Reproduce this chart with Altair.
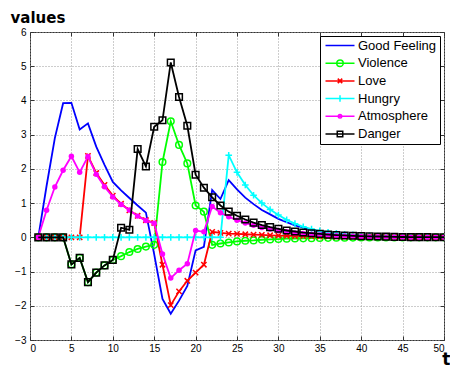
import altair as alt
import pandas as pd

t = list(range(1, 51))
names = ["Good Feeling", "Violence", "Love", "Hungry", "Atmosphere", "Danger"]
colors = ["#0000ff", "#00ff00", "#ff0000", "#00ffff", "#ff00ff", "#000000"]

good_feeling = [0, 1.5, 2.9, 3.92, 3.93, 3.15, 3.33, 2.65, 2.12, 1.62,
                1.37, 1.15, 0.93, 0.72, -0.5, -1.8, -2.23, -1.85, -1.42, -0.38,
                -0.28, 1.38, 1.12, 1.67, 1.4, 1.16, 0.97, 0.8, 0.67, 0.54,
                0.44, 0.35, 0.28, 0.22, 0.17, 0.13, 0.1, 0.08, 0.06, 0.05,
                0.04, 0.03, 0.02, 0.02, 0.01, 0.01, 0.01, 0.0, 0.0, 0.0]
violence = [0, 0, 0, 0, -0.79, -0.6, -1.31, -1.03, -0.82, -0.66,
            -0.55, -0.43, -0.34, -0.27, -0.22, 2.2, 3.39, 2.7, 2.16, 0.93,
            0.75, -0.22, -0.18, -0.15, -0.12, -0.1, -0.09, -0.07, -0.06, -0.05,
            -0.04, -0.035, -0.03, -0.025, -0.02, -0.015, -0.01, -0.01, -0.008, -0.006,
            -0.005, -0.004, -0.003, -0.002, -0.002, -0.001, -0.001, 0, 0, 0]
love = [0, 0, 0, 0, 0, 0, 2.38, 1.88, 1.53, 1.22,
        0.98, 0.79, 0.63, 0.5, 0.42, -0.8, -1.98, -1.58, -1.27, -1.03,
        -0.8, 0.16, 0.13, 0.11, 0.1, 0.09, 0.08, 0.07, 0.06, 0.05,
        0.045, 0.04, 0.035, 0.03, 0.025, 0.02, 0.018, 0.015, 0.012, 0.01,
        0.008, 0.007, 0.006, 0.005, 0.004, 0.003, 0.002, 0.002, 0.001, 0.001]
hungry = [0, 0, 0, 0, 0, 0, 0, 0, 0, 0,
          0, 0, 0, 0, 0, 0, 0, 0, 0, 0,
          0, 0, 0, 2.4, 1.9, 1.53, 1.23, 1.0, 0.81, 0.65,
          0.51, 0.4, 0.31, 0.24, 0.19, 0.15, 0.12, 0.09, 0.07, 0.055,
          0.045, 0.035, 0.025, 0.02, 0.015, 0.01, 0.008, 0.006, 0.004, 0.003]
atmosphere = [0, 0.79, 1.47, 1.96, 2.37, 1.9, 2.36, 1.84, 1.48, 1.18,
              0.96, 0.8, 0.62, 0.49, 0.41, -0.49, -1.19, -0.96, -0.77, 0.2,
              0.16, 0.9, 0.72, 0.6, 0.5, 0.42, 0.35, 0.29, 0.24, 0.2,
              0.16, 0.13, 0.11, 0.09, 0.07, 0.06, 0.05, 0.04, 0.03, 0.025,
              0.02, 0.015, 0.012, 0.01, 0.008, 0.006, 0.005, 0.004, 0.003, 0.002]
danger = [0, 0, 0, 0, -0.79, -0.6, -1.31, -1.03, -0.82, -0.66,
          0.28, 0.22, 2.58, 2.07, 3.23, 3.42, 5.11, 4.1, 3.26, 1.83,
          1.45, 1.17, 0.93, 0.75, 0.63, 0.52, 0.43, 0.36, 0.3, 0.25,
          0.2, 0.17, 0.14, 0.12, 0.1, 0.08, 0.065, 0.055, 0.045, 0.035,
          0.03, 0.025, 0.02, 0.015, 0.01, 0.008, 0.006, 0.005, 0.004, 0.003]

x_ticks = list(range(0, 51, 5))
y_ticks = list(range(-3, 7))

all_values = [good_feeling, violence, love, hungry, atmosphere, danger]
rows = []
for n, vals in zip(names, all_values):
    for ti, v in zip(t, vals):
        rows.append({"t": ti, "value": v, "series": n})
df = pd.DataFrame(rows)

# plot markers: (shape, size, filled)
markers = {
    "Violence": ("circle", 44, False),
    "Love": ("M-1,-1L1,1M-1,1L1,-1", 28, False),
    "Hungry": ("M0,-1V1M-1,0H1", 44, False),
    "Atmosphere": ("circle", 30, True),
    "Danger": ("square", 44, False),
}
# legend symbols: a line with the marker in its middle (path units scaled by 5 px)
legend_paths = [
    "M-1,0H4.8",
    "M-1,0H4.8M2.55,0A0.65,0.65 0 1,1 1.25,0A0.65,0.65 0 1,1 2.55,0",
    "M-1,0H4.8M1.45,-0.45L2.35,0.45M1.45,0.45L2.35,-0.45",
    "M-1,0H4.8M1.9,-0.65V0.65",
    "M-1,0H4.8M2.25,0A0.35,0.35 0 1,1 1.55,0A0.35,0.35 0 1,1 2.25,0",
    "M-1,0H4.8M1.35,-0.55H2.45V0.55H1.35Z",
]

xscale = alt.Scale(domain=[0, 50], nice=False, zero=False)
yscale = alt.Scale(domain=[-3, 6], nice=False)

font = "Liberation Sans"
x_axis_main = alt.Axis(orient="bottom", values=x_ticks, grid=True, gridDash=[1, 2],
                       gridColor="#9a9a9a", domain=False, tickSize=4, offset=-4,
                       tickColor="#333333", labelPadding=3, labelFontSize=10,
                       labelFont=font, labelColor="#000000", format="d",
                       title="t", titleFont="DejaVu Sans", titleFontSize=17,
                       titleFontWeight="bold", titleColor="#000000",
                       titleAnchor="end", titleAlign="right", titleBaseline="alphabetic",
                       titleX=420, titleY=28)
y_axis_main = alt.Axis(orient="left", values=y_ticks, grid=True, gridDash=[1, 2],
                       gridColor="#9a9a9a", domain=False, tickSize=4, offset=-4,
                       tickColor="#333333", labelPadding=4, labelFontSize=10,
                       labelFont=font, labelColor="#000000", format="d",
                       title="values", titleFont="DejaVu Sans", titleFontSize=15,
                       titleFontWeight="bold", titleColor="#000000", titleAngle=0,
                       titleAlign="left", titleBaseline="alphabetic",
                       titleX=-24, titleY=-10)
x_axis_top = alt.Axis(orient="top", values=x_ticks, grid=False, domain=False, tickSize=4,
                      offset=-4, tickColor="#333333", labels=False, title=None)
y_axis_right = alt.Axis(orient="right", values=y_ticks, grid=False, domain=False, tickSize=4,
                        offset=-4, tickColor="#333333", labels=False, title=None)

layers = []
first = True
for n, c in zip(names, colors):
    sub = alt.Chart(df).transform_filter(alt.datum.series == n)
    if first:
        xenc = alt.X("t:Q", scale=xscale, axis=x_axis_main)
        yenc = alt.Y("value:Q", scale=yscale, axis=y_axis_main)
        first = False
    else:
        xenc = alt.X("t:Q", scale=xscale, axis=None)
        yenc = alt.Y("value:Q", scale=yscale, axis=None)
    layers.append(sub.mark_line(color=c, strokeWidth=1.8, clip=True).encode(x=xenc, y=yenc))
    if n in markers:
        shp, sz, fl = markers[n]
        pt = sub.mark_point(shape=shp, size=sz, filled=fl, color=c, strokeWidth=1.5,
                            opacity=1, clip=True).encode(
            x=alt.X("t:Q", scale=xscale, axis=None),
            y=alt.Y("value:Q", scale=yscale, axis=None))
        layers.append(pt)

leg = alt.Legend(orient="top-right", offset=4, padding=3, strokeColor="#000000",
                 fillColor="#ffffff", labelFontSize=13, labelFont=font, labelColor="#000000",
                 rowPadding=3.7, symbolSize=100, symbolStrokeWidth=1.5, labelOffset=21,
                 symbolOffset=1, title=None, cornerRadius=0)
legend_layer = alt.Chart(df).transform_filter("datum.t < 0").mark_point(
    filled=False, size=100, strokeWidth=1.5, opacity=1).encode(
    x=alt.X("t:Q", scale=xscale, axis=x_axis_top),
    y=alt.Y("value:Q", scale=yscale, axis=y_axis_right),
    color=alt.Color("series:N", scale=alt.Scale(domain=names, range=colors), legend=leg),
    shape=alt.Shape("series:N", scale=alt.Scale(domain=names, range=legend_paths), legend=leg),
)
layers.append(legend_layer)

chart = alt.layer(*layers).resolve_axis(x="independent", y="independent").properties(
    width=414, height=308,
    autosize=alt.AutoSizeParams(type="none"),
    padding={"left": 22, "top": 24, "right": 6, "bottom": 28},
).configure_view(stroke="#333333", strokeWidth=1)

chart.save("out.html", embed_options={"renderer": "svg", "actions": False})
